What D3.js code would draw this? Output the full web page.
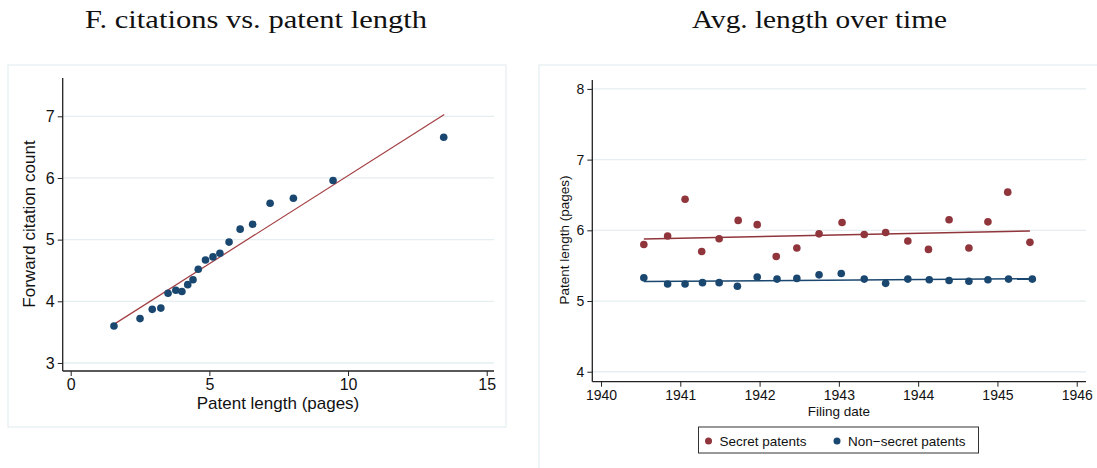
<!DOCTYPE html>
<html lang="en">
<head>
    <meta charset="UTF-8">
    <title>Patent length charts</title>
    <script src="https://d3js.org/d3.v7.min.js"></script>
    <style>
        body { margin: 0; background: #fff; }
        text { font-family: "Liberation Sans", Arial, sans-serif; fill: #111; }
        .title { font-family: "Liberation Serif", "DejaVu Serif", serif; }
    </style>
</head>
<body>
    <div id="chart"></div>
    <script>
        // Left panel: binned scatter, forward citations vs. patent length
        const lengthBins = [1.56, 2.50, 2.94, 3.25, 3.51, 3.79, 4.01, 4.22, 4.41, 4.60,
                            4.86, 5.13, 5.38, 5.71, 6.11, 6.56, 7.19, 8.03, 9.46, 13.45];
        const citations = [3.60, 3.72, 3.87, 3.89, 4.13, 4.18, 4.16, 4.27, 4.35, 4.52,
                           4.67, 4.72, 4.78, 4.96, 5.17, 5.25, 5.59, 5.67, 5.96, 6.66];
        const citeFitX = [1.57, 13.47];
        const citeFitY = [3.63, 7.03];
        const leftXTicks = [0, 5, 10, 15];
        const leftYTicks = [3, 4, 5, 6, 7];

        // Right panel: average length over filing date
        const secretDates = [1940.54, 1940.84, 1941.06, 1941.27, 1941.49, 1941.73, 1941.97, 1942.21, 1942.47, 1942.75,
                             1943.04, 1943.32, 1943.59, 1943.87, 1944.13, 1944.39, 1944.64, 1944.88, 1945.13, 1945.41];
        const secretLength = [5.80, 5.92, 6.44, 5.70, 5.88, 6.14, 6.08, 5.63, 5.75, 5.95,
                              6.11, 5.94, 5.97, 5.85, 5.73, 6.15, 5.75, 6.12, 6.54, 5.83];
        const openDates = [1940.54, 1940.84, 1941.06, 1941.28, 1941.49, 1941.72, 1941.97, 1942.22, 1942.47, 1942.75,
                           1943.03, 1943.32, 1943.59, 1943.87, 1944.14, 1944.39, 1944.64, 1944.88, 1945.14, 1945.44];
        const openLength = [5.33, 5.24, 5.24, 5.26, 5.26, 5.21, 5.34, 5.31, 5.32, 5.37,
                            5.39, 5.31, 5.25, 5.31, 5.30, 5.29, 5.28, 5.30, 5.31, 5.31];
        const secretFitX = [1940.54, 1945.41];
        const secretFitY = [5.877, 5.99];
        const openFitX = [1940.54, 1945.44];
        const openFitY = [5.275, 5.315];
        const rightXTicks = [1940, 1941, 1942, 1943, 1944, 1945, 1946];
        const rightYTicks = [4, 5, 6, 7, 8];
        const legendLabels = ['Secret patents', 'Non\u2212secret patents'];

        const navy = '#1a476f';
        const maroon = '#90353b';
        const gridCol = '#e5eef0';

        const svg = d3.select('#chart')
            .append('svg')
            .attr('width', 1097)
            .attr('height', 468);

        // titles (stretched to the width of the original serif face)
        svg.append('text').attr('class', 'title')
            .attr('x', 85).attr('y', 28)
            .attr('textLength', 342).attr('lengthAdjust', 'spacingAndGlyphs')
            .style('font-size', '26px')
            .text('F. citations vs. patent length');
        svg.append('text').attr('class', 'title')
            .attr('x', 692).attr('y', 28)
            .attr('textLength', 255).attr('lengthAdjust', 'spacingAndGlyphs')
            .style('font-size', '26px')
            .text('Avg. length over time');

        // panel frames
        svg.append('rect')
            .attr('x', 8).attr('y', 65).attr('width', 498).attr('height', 362)
            .attr('fill', 'none').attr('stroke', gridCol).attr('stroke-width', 1.2);
        svg.append('rect')
            .attr('x', 539).attr('y', 65).attr('width', 570).attr('height', 420)
            .attr('fill', 'none').attr('stroke', gridCol).attr('stroke-width', 1.2);

        function drawAxes(g, x, y, xTicks, yTicks, tickSize) {
            const [x0, x1] = x.range();
            const [y0, y1] = y.range();

            g.selectAll('.grid')
                .data(yTicks)
                .enter()
                .append('line')
                .attr('x1', x0).attr('x2', x1)
                .attr('y1', d => y(d)).attr('y2', d => y(d))
                .attr('stroke', gridCol).attr('stroke-width', 1.3);

            const ya = g.append('g')
                .attr('transform', `translate(${x0},0)`)
                .call(d3.axisLeft(y).tickValues(yTicks).tickSize(5).tickPadding(3).tickFormat(d3.format('d')));
            const xa = g.append('g')
                .attr('transform', `translate(0,${y0})`)
                .call(d3.axisBottom(x).tickValues(xTicks).tickSize(5).tickPadding(3).tickFormat(d3.format('d')));

            [ya, xa].forEach(a => {
                a.select('.domain').attr('stroke', '#222').attr('stroke-width', 1.3)
                    .attr('d', a === ya ? `M0,${y0}V${y1}` : `M${x0},0H${x1}`);
                a.selectAll('.tick line').attr('stroke', '#222').attr('stroke-width', 1);
                a.selectAll('.tick text')
                    .style('font-family', '"Liberation Sans", Arial, sans-serif')
                    .style('font-size', tickSize + 'px')
                    .attr('fill', '#111');
            });
        }

        // ---------- left panel ----------
        const lx = d3.scaleLinear().domain([-0.2885, 15.263]).range([62.7, 494]);
        const ly = d3.scaleLinear().domain([2.870, 7.621]).range([371, 78]);
        const left = svg.append('g');
        drawAxes(left, lx, ly, leftXTicks, leftYTicks, 16);

        left.append('path')
            .datum(d3.zip(citeFitX, citeFitY))
            .attr('d', d3.line().x(d => lx(d[0])).y(d => ly(d[1])))
            .attr('fill', 'none').attr('stroke', '#a23e42').attr('stroke-width', 1.2);

        left.selectAll('.dot')
            .data(d3.zip(lengthBins, citations))
            .enter()
            .append('circle')
            .attr('cx', d => lx(d[0]))
            .attr('cy', d => ly(d[1]))
            .attr('r', 3.8)
            .attr('fill', navy);

        left.append('text')
            .attr('x', 278).attr('y', 409)
            .attr('text-anchor', 'middle')
            .style('font-size', '17px')
            .text('Patent length (pages)');
        left.append('text')
            .attr('transform', 'translate(35,224) rotate(-90)')
            .attr('text-anchor', 'middle')
            .style('font-size', '17px')
            .text('Forward citation count');

        // ---------- right panel ----------
        const rx = d3.scaleLinear().domain([1939.89, 1946.117]).range([592.3, 1086]);
        const ry = d3.scaleLinear().domain([3.859, 8.126]).range([381.7, 80]);
        const right = svg.append('g');
        drawAxes(right, rx, ry, rightXTicks, rightYTicks, 14);

        const rline = d3.line().x(d => rx(d[0])).y(d => ry(d[1]));
        right.append('path')
            .datum(d3.zip(secretFitX, secretFitY))
            .attr('d', rline)
            .attr('fill', 'none').attr('stroke', maroon).attr('stroke-width', 1.5);
        right.append('path')
            .datum(d3.zip(openFitX, openFitY))
            .attr('d', rline)
            .attr('fill', 'none').attr('stroke', navy).attr('stroke-width', 1.5);

        right.selectAll('.sdot')
            .data(d3.zip(secretDates, secretLength))
            .enter()
            .append('circle')
            .attr('cx', d => rx(d[0]))
            .attr('cy', d => ry(d[1]))
            .attr('r', 3.8)
            .attr('fill', maroon);
        right.selectAll('.odot')
            .data(d3.zip(openDates, openLength))
            .enter()
            .append('circle')
            .attr('cx', d => rx(d[0]))
            .attr('cy', d => ry(d[1]))
            .attr('r', 3.8)
            .attr('fill', navy);

        right.append('text')
            .attr('x', 839).attr('y', 416)
            .attr('text-anchor', 'middle')
            .style('font-size', '13.5px')
            .text('Filing date');
        right.append('text')
            .attr('transform', 'translate(569,240) rotate(-90)')
            .attr('text-anchor', 'middle')
            .style('font-size', '13.5px')
            .text('Patent length (pages)');

        // legend
        const legend = svg.append('g');
        legend.append('rect')
            .attr('x', 698.5).attr('y', 427).attr('width', 280).attr('height', 26)
            .attr('fill', '#fff').attr('stroke', '#333').attr('stroke-width', 1);
        const legItems = [
            { label: legendLabels[0], color: maroon, x: 708.5 },
            { label: legendLabels[1], color: navy, x: 837 }
        ];
        legItems.forEach(it => {
            legend.append('circle')
                .attr('cx', it.x).attr('cy', 441).attr('r', 3.5).attr('fill', it.color);
            legend.append('text')
                .attr('x', it.x + 11).attr('y', 445.5)
                .style('font-size', '13.5px')
                .text(it.label);
        });
    </script>
</body>
</html>
